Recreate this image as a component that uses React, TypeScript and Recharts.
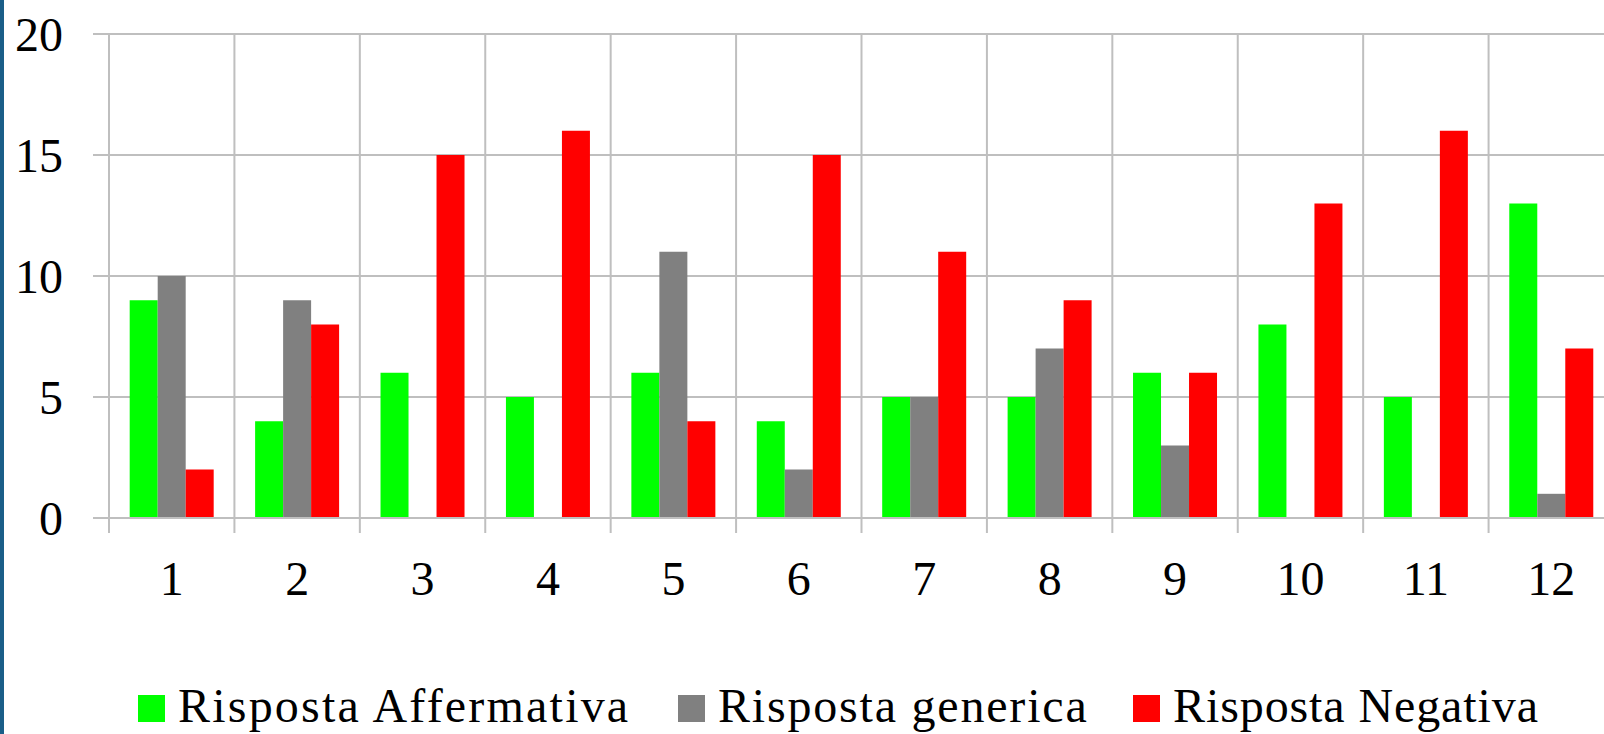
import React from "react";
import { BarChart, Bar, XAxis, YAxis, CartesianGrid, Legend } from "recharts";

const categories = ["1", "2", "3", "4", "5", "6", "7", "8", "9", "10", "11", "12"];
const affermativa = [9, 4, 6, 5, 6, 4, 5, 5, 6, 8, 5, 13];
const generica = [10, 9, 0, 0, 11, 2, 5, 7, 3, 0, 0, 1];
const negativa = [2, 8, 15, 16, 4, 15, 11, 9, 6, 13, 16, 7];
const yTicks = [0, 5, 10, 15, 20];

const seriesInfo = [
  { key: "aff", name: "Risposta Affermativa", color: "#00ff00", spacing: 2.2 },
  { key: "gen", name: "Risposta generica", color: "#808080", spacing: 1.8 },
  { key: "neg", name: "Risposta Negativa", color: "#ff0000", spacing: 0.9 },
];

const data = categories.map((c, i) => ({
  cat: c,
  aff: affermativa[i],
  gen: generica[i],
  neg: negativa[i],
}));

const FONT = '"Liberation Serif", "Times New Roman", serif';
const GRID = "#bfbfbf";
const legendLefts = [138, 678, 1133];

const verticalGen = (props: any) => {
  const xAxis = props ? props.xAxis : undefined;
  const offset = props ? props.offset : undefined;
  const s = xAxis ? xAxis.scale : undefined;
  let pts: number[] = [];
  if (s) {
    const apply = (c: string) => {
      if (typeof s.map === "function" && typeof s !== "function") return s.map(c);
      if (typeof s === "function") return s(c);
      return undefined;
    };
    let bw: any = undefined;
    if (typeof s.bandwidth === "function") bw = s.bandwidth();
    pts = categories.map((c) => apply(c));
    if (pts.every((p) => typeof p === "number" && isFinite(p))) {
      if (typeof bw !== "number") bw = pts.length > 1 ? pts[1] - pts[0] : 0;
      pts.push(pts[pts.length - 1] + bw);
      return pts;
    }
  }
  if (offset && typeof offset.left === "number" && typeof offset.width === "number") {
    const step = offset.width / categories.length;
    return [...categories.map((_, i) => offset.left + i * step), offset.left + offset.width];
  }
  return [];
};

const XTick = (props: any) => {
  const { x, y, payload, index } = props;
  const half = payload && typeof payload.offset === "number" ? payload.offset : 0;
  const isLast = index === categories.length - 1;
  return (
    <g>
      <line x1={x - half} x2={x - half} y1={y} y2={y + 15} stroke={GRID} strokeWidth={2} />
      {isLast && (
        <line x1={x + half} x2={x + half} y1={y} y2={y + 15} stroke={GRID} strokeWidth={2} />
      )}
      <text
        x={x}
        y={y + 43}
        dy="0.71em"
        textAnchor="middle"
        fill="#000"
        fontSize={48}
        fontFamily={FONT}
      >
        {payload.value}
      </text>
    </g>
  );
};

const LegendContent = () => (
  <div style={{ position: "relative", height: 60, width: "100%" }}>
    {seriesInfo.map((s, i) => (
      <div key={s.key} style={{ position: "absolute", left: legendLefts[i], top: 0, height: 60 }}>
        <div
          style={{
            position: "absolute",
            left: 0,
            top: 21,
            width: 27,
            height: 27,
            background: s.color,
          }}
        />
        <span
          style={{
            position: "absolute",
            left: 40,
            top: 8,
            fontFamily: FONT,
            fontSize: 48,
            lineHeight: "48px",
            whiteSpace: "nowrap",
            letterSpacing: `${s.spacing}px`,
            color: "#000",
          }}
        >
          {s.name}
        </span>
      </div>
    ))}
  </div>
);

export default function App() {
  return (
    <div
      style={{
        position: "fixed",
        left: 0,
        top: 0,
        width: 1604,
        height: 734,
        overflow: "hidden",
        background: "#fff",
      }}
    >
      <div
        style={{
          position: "absolute",
          left: 0,
          top: 0,
          width: 4,
          height: 734,
          background: "#1a5e88",
          zIndex: 2,
        }}
      />
      <BarChart
        width={1640}
        height={734}
        data={data}
        margin={{ top: 34, right: 26, bottom: 0, left: 0 }}
        barCategoryGap="16.5%"
        barGap={0}
      >
        <CartesianGrid
          stroke={GRID}
          strokeWidth={2}
          verticalCoordinatesGenerator={verticalGen}
        />
        <XAxis
          dataKey="cat"
          height={156}
          tickLine={false}
          axisLine={{ stroke: GRID, strokeWidth: 2 }}
          tickSize={0}
          tickMargin={0}
          tick={<XTick />}
          interval={0}
        />
        <YAxis
          domain={[0, 20]}
          ticks={yTicks}
          width={109}
          tickSize={16}
          tickMargin={30}
          tickLine={{ stroke: GRID, strokeWidth: 2 }}
          axisLine={{ stroke: GRID, strokeWidth: 2 }}
          tick={{ fill: "#000", fontSize: 48, fontFamily: FONT }}
        />
        <Legend verticalAlign="bottom" content={<LegendContent />} />
        {seriesInfo.map((s) => (
          <Bar key={s.key} dataKey={s.key} name={s.name} fill={s.color} isAnimationActive={false} />
        ))}
      </BarChart>
    </div>
  );
}
